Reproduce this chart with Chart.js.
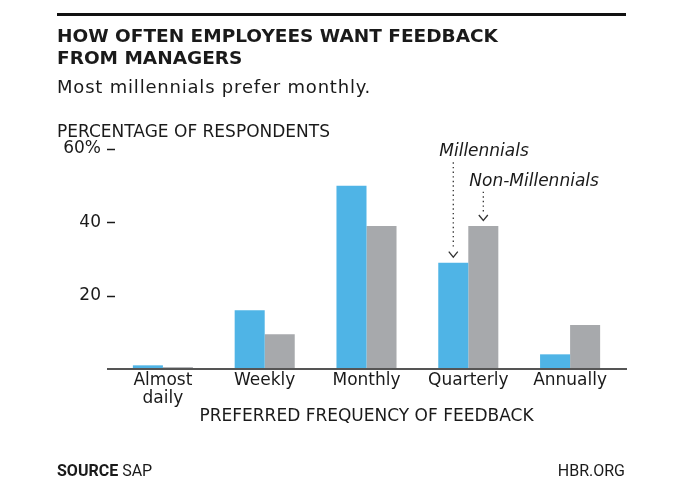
<!DOCTYPE html>
<html>
<head>
<meta charset="utf-8">
<script src="https://cdn.jsdelivr.net/npm/chart.js@4"></script>
<style>
  body { margin: 0; background: #fff; }
  #wrap { position: relative; width: 700px; height: 481px; overflow: hidden; color: #1a1a1a; }
  #wrap canvas { position: absolute; left: 0; top: 0; }
  .txt { position: absolute; white-space: nowrap; line-height: 1; }
  .rule { position: absolute; left: 57px; top: 13px; width: 569px; height: 3px; background: #111; }
  .title { font: bold 18.5px "DejaVu Sans"; left: 57px; }
  .sub { font: 18px "DejaVu Sans"; left: 57px; top: 76px; letter-spacing: 0.8px; }
  .ytitle { font: 17px "DejaVu Sans"; left: 57px; top: 120.6px; }
  .src { font: 16px Roboto; top: 460.5px; }
</style>
</head>
<body>
<div id="wrap">
  <canvas id="chart" width="700" height="481"></canvas>
  <div class="rule"></div>
  <div class="txt title" style="top:25px">HOW OFTEN EMPLOYEES WANT FEEDBACK</div>
  <div class="txt title" style="top:47px">FROM MANAGERS</div>
  <div class="txt sub">Most millennials prefer monthly.</div>
  <div class="txt ytitle">PERCENTAGE OF RESPONDENTS</div>
  <div class="txt src" style="left:57px"><b>SOURCE</b> SAP</div>
  <div class="txt src" style="right:75px">HBR.ORG</div>
</div>
<script>
// data
const categories = [["Almost", "daily"], "Weekly", "Monthly", "Quarterly", "Annually"];
const millennials = [1, 16, 50, 29, 4];
const nonMillennials = [0.5, 9.5, 39, 39, 12];
const yTicks = [0, 20, 40, 60];
const seriesNames = ["Millennials", "Non-Millennials"];
// where the callout labels sit (in % on the y scale) and which bar they point at
const calloutLabelY = [58, 50];
const calloutCategory = 3;

const textColor = "#1a1a1a";

// axis line a bit wider than the plot, plus the little dashes at each tick
const axisLine = {
  id: "axisLine",
  afterDatasetsDraw(chart) {
    const { ctx, chartArea } = chart;
    const y = chart.scales.y;
    ctx.save();
    ctx.strokeStyle = "#555";
    ctx.lineWidth = 2;
    ctx.beginPath();
    ctx.moveTo(chartArea.left - 5, chartArea.bottom);
    ctx.lineTo(chartArea.right + 6, chartArea.bottom);
    ctx.stroke();

    ctx.strokeStyle = textColor;
    ctx.lineWidth = 1.5;
    yTicks.filter(v => v > 0).forEach(v => {
      const py = Math.round(y.getPixelForValue(v)) + 0.5;
      ctx.beginPath();
      ctx.moveTo(chartArea.left - 5, py);
      ctx.lineTo(chartArea.left + 3, py);
      ctx.stroke();
    });
    ctx.restore();
  }
};

// dotted arrows with series names above the quarterly bars
const callouts = {
  id: "callouts",
  afterDraw(chart) {
    const { ctx } = chart;
    const y = chart.scales.y;
    ctx.save();
    ctx.font = "oblique 17px 'DejaVu Sans'";
    ctx.fillStyle = textColor;
    ctx.strokeStyle = "#333";
    ctx.lineWidth = 1.3;
    seriesNames.forEach((name, i) => {
      const bar = chart.getDatasetMeta(i).data[calloutCategory];
      const left = bar.x - bar.width / 2;
      const base = y.getPixelForValue(calloutLabelY[i]);
      ctx.textAlign = "left";
      ctx.textBaseline = "alphabetic";
      ctx.fillText(name, left + 1, base);

      const tip = bar.y - 5.5;
      ctx.setLineDash([1.4, 3.2]);
      ctx.beginPath();
      ctx.moveTo(bar.x, base + 6);
      ctx.lineTo(bar.x, tip - 8);
      ctx.stroke();
      ctx.setLineDash([]);
      ctx.beginPath();
      ctx.moveTo(bar.x - 4.5, tip - 5.5);
      ctx.lineTo(bar.x, tip);
      ctx.lineTo(bar.x + 4.5, tip - 5.5);
      ctx.stroke();
    });
    ctx.restore();
  }
};

new Chart(document.getElementById("chart"), {
  type: "bar",
  data: {
    labels: categories,
    datasets: [
      { label: seriesNames[0], data: millennials, backgroundColor: "#4fb4e6" },
      { label: seriesNames[1], data: nonMillennials, backgroundColor: "#a7a9ac" }
    ]
  },
  options: {
    responsive: false,
    animation: false,
    devicePixelRatio: 1,
    layout: { padding: { left: 0, right: 79, top: 149, bottom: 54 } },
    datasets: { bar: { categoryPercentage: 0.59, barPercentage: 1 } },
    plugins: { legend: { display: false }, tooltip: { enabled: false } },
    scales: {
      x: {
        grid: { display: false, drawTicks: false },
        border: { display: false },
        ticks: {
          color: textColor,
          font: { family: "DejaVu Sans", size: 17, lineHeight: 1.06 },
          padding: 3,
          maxRotation: 0,
          autoSkip: false
        },
        title: {
          display: true,
          text: "PREFERRED FREQUENCY OF FEEDBACK",
          color: textColor,
          font: { family: "DejaVu Sans", size: 17, lineHeight: 1.2 },
          padding: 0
        },
        afterFit(scale) { scale.height = 58; }
      },
      y: {
        min: 0,
        max: 60,
        grid: { display: false, drawTicks: false },
        border: { display: false },
        afterBuildTicks(scale) { scale.ticks = yTicks.map(v => ({ value: v })); },
        ticks: {
          color: textColor,
          font: { family: "DejaVu Sans", size: 17 },
          padding: 11,
          callback: v => v === 0 ? "" : (v === 60 ? "60%" : String(v))
        },
        afterFit(scale) { scale.width = 112; }
      }
    }
  },
  plugins: [axisLine, callouts]
});
</script>
</body>
</html>
